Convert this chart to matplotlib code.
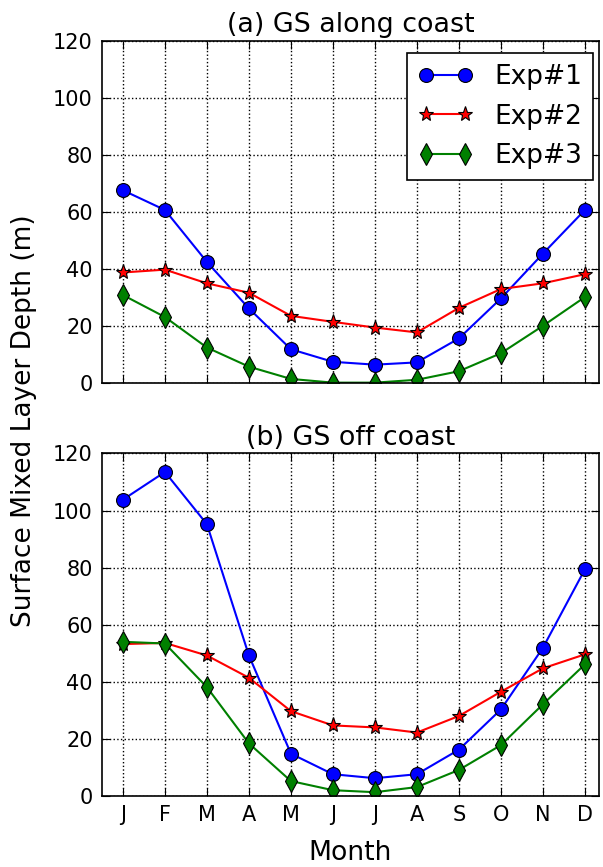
import numpy as np
import matplotlib
matplotlib.use('Agg')
import matplotlib.pyplot as plt

months = ['J', 'F', 'M', 'A', 'M', 'J', 'J', 'A', 'S', 'O', 'N', 'D']

# (a) GS along coast
along_exp1 = [67.6, 60.7, 42.5, 26.2, 11.9, 7.5, 6.5, 7.3, 15.7, 29.7, 45.4, 60.7]
along_exp2 = [38.8, 39.8, 35.0, 31.7, 23.6, 21.5, 19.5, 17.8, 26.4, 33.0, 35.0, 38.2]
along_exp3 = [30.9, 23.2, 12.5, 5.8, 1.5, 0.2, 0.2, 1.2, 4.2, 10.5, 20.1, 30.2]

# (b) GS off coast
off_exp1 = [103.8, 113.5, 95.2, 49.2, 14.8, 7.6, 6.2, 7.6, 16.2, 30.3, 51.9, 79.4]
off_exp2 = [53.2, 53.6, 49.2, 41.4, 29.7, 24.7, 24.0, 22.2, 28.0, 36.5, 44.7, 49.6]
off_exp3 = [54.0, 53.4, 38.1, 18.4, 5.2, 2.0, 1.3, 3.1, 9.1, 17.8, 32.1, 46.1]

labels = ['Exp#1', 'Exp#2', 'Exp#3']
titles = ['(a) GS along coast', '(b) GS off coast']

x = np.arange(1, 13)

fig = plt.figure(figsize=(6.03, 8.67), dpi=100)
ax1 = fig.add_axes([0.169, 0.558, 0.824, 0.395])
ax2 = fig.add_axes([0.169, 0.082, 0.824, 0.395])


def draw(ax, e1, e2, e3, title):
    ax.plot(x, e1, 'o-', color='blue', mfc='blue', mec='black', mew=0.8,
            ms=10, lw=1.5, label=labels[0])
    ax.plot(x, e2, '*-', color='red', mfc='red', mec='black', mew=0.8,
            ms=11, lw=1.5, label=labels[1])
    ax.plot(x, e3, 'd-', color='green', mfc='green', mec='black', mew=0.8,
            ms=11, lw=1.5, label=labels[2])
    ax.set_xlim(0.5, 12.33)
    ax.set_ylim(0, 120)
    ax.set_yticks(np.arange(0, 121, 20))
    ax.set_xticks(x)
    ax.set_xticklabels(months)
    ax.grid(True, color='black', linestyle=':', linewidth=1)
    ax.tick_params(direction='in', top=True, right=True, length=6,
                   labelsize=15, pad=6.5)
    for s in ax.spines.values():
        s.set_linewidth(1.2)
    ax.set_title(title, fontsize=19.4, pad=6)


draw(ax1, along_exp1, along_exp2, along_exp3, titles[0])
draw(ax2, off_exp1, off_exp2, off_exp3, titles[1])

ax1.tick_params(labelbottom=False)
leg = ax1.legend(loc='upper right', fontsize=19, numpoints=2,
                 fancybox=False, framealpha=1, edgecolor='black',
                 handlelength=2.1, borderpad=0.4, labelspacing=0.52,
                 handletextpad=0.8, bbox_to_anchor=(0.988, 0.963),
                 borderaxespad=0)
leg.get_frame().set_linewidth(1.2)

ax2.set_xlabel('Month', fontsize=19.2, labelpad=11)
fig.text(0.04, 0.515, 'Surface Mixed Layer Depth (m)', rotation=90,
         fontsize=19, ha='center', va='center')

fig.savefig('out.png', dpi=100)
